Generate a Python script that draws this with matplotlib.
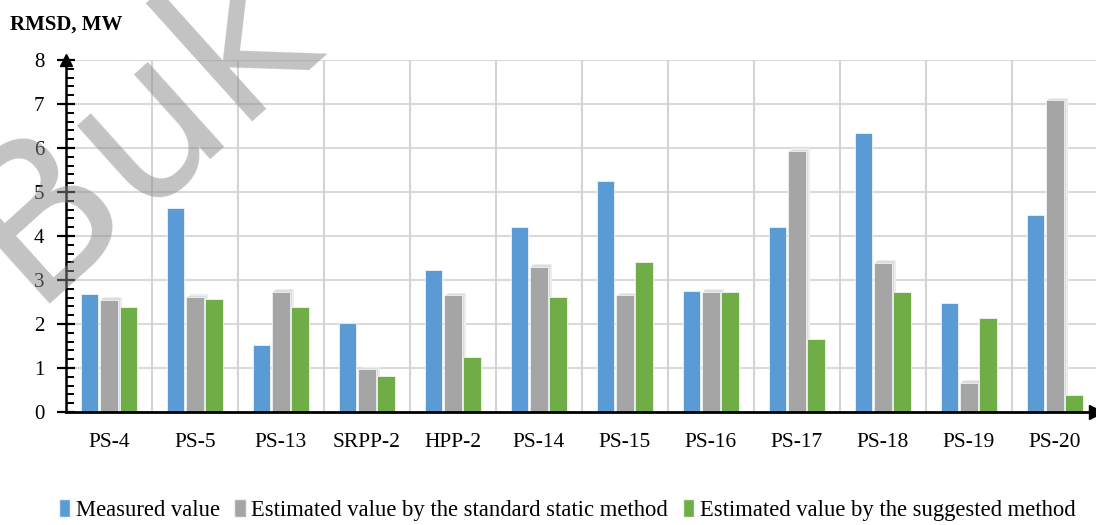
import numpy as np
import matplotlib.pyplot as plt
from matplotlib import patheffects as pe
from matplotlib.ticker import MultipleLocator
from matplotlib.patches import Patch

plt.rcParams['font.family'] = ['Liberation Serif', 'DejaVu Serif']

# RMSD per station, MW
stations = ['PS-4', 'PS-5', 'PS-13', 'SRPP-2', 'HPP-2', 'PS-14',
            'PS-15', 'PS-16', 'PS-17', 'PS-18', 'PS-19', 'PS-20']
measured = [2.68, 4.63, 1.52, 2.02, 3.23, 4.20, 5.25, 2.76, 4.20, 6.34, 2.48, 4.47]
standard = [2.55, 2.61, 2.73, 0.97, 2.65, 3.30, 2.65, 2.73, 5.93, 3.39, 0.67, 7.08]
suggested = [2.38, 2.57, 2.38, 0.82, 1.24, 2.61, 3.42, 2.73, 1.67, 2.72, 2.13, 0.39]

series_names = ['Measured value',
                'Estimated value by the standard static method',
                'Estimated value by the suggested method']
colors = ['#5b9bd5', '#a5a5a5', '#70ad47']

fig = plt.figure(figsize=(10.96, 5.25), dpi=100)
ax = fig.add_axes([66 / 1096, 113 / 525, 1030 / 1096, 352 / 525])

x = np.arange(len(stations))
w = 0.205
offsets = [-0.225, 0.0, 0.225]
for vals, off, c in zip([measured, standard, suggested], offsets, colors):
    bars = ax.bar(x + off, vals, width=w, color=c, edgecolor='#eef3f8',
                  linewidth=0.6, zorder=3)
    if c == '#a5a5a5':
        # soft glow behind the grey bars
        for b in bars:
            b.set_path_effects([
                pe.SimplePatchShadow(offset=(3, 2), shadow_rgbFace='#ececec', alpha=1),
                pe.SimplePatchShadow(offset=(1.5, 1), shadow_rgbFace='#dcdcdc', alpha=1),
                pe.Normal()])

ax.set_xlim(-0.5, 11.48)
ax.set_ylim(0, 8)

# grid: integer rows, category separators
for yv in range(1, 9):
    ax.axhline(yv, color='#dadada', lw=1.5, zorder=1)
for xv in np.arange(0.5, 11.5, 1.0):
    ax.axvline(xv, color='#d4d4d4', lw=1.5, zorder=1)

for s in ['top', 'right']:
    ax.spines[s].set_visible(False)
ax.spines['left'].set_linewidth(1.8)
ax.spines['bottom'].set_linewidth(2.0)
ax.spines['left'].set_zorder(5)
ax.spines['bottom'].set_zorder(5)

ax.yaxis.set_major_locator(MultipleLocator(1))
ax.yaxis.set_minor_locator(MultipleLocator(0.2))
ax.tick_params(axis='y', which='major', direction='inout', length=13, width=1.6,
               labelsize=15, pad=9)
ax.tick_params(axis='y', which='minor', direction='in', length=6, width=1.4)
ax.set_xticks(x)
ax.set_xticklabels(stations, fontsize=15.5)
ax.tick_params(axis='x', length=0, pad=15)

# arrow heads on both axes
ax.plot(1, 0, '>', color='black', markersize=10, transform=ax.transAxes, clip_on=False, zorder=6)
ax.plot(0, 1, '^', color='black', markersize=9, transform=ax.transAxes, clip_on=False, zorder=6)

fig.text(10 / 1096, 1 - 25 / 525, 'RMSD, MW', fontsize=15, fontweight='bold',
         va='center', ha='left')

handles = [Patch(facecolor=c, edgecolor='#eef3f8') for c in colors]
fig.legend(handles, series_names, loc='center', bbox_to_anchor=(567 / 1096, 1 - 510 / 525),
           ncol=3, frameon=False, fontsize=16.3, handlelength=0.5, handleheight=0.85,
           handletextpad=0.25, columnspacing=0.65)

# watermark
fig.text(138 / 1096, 1 - 128 / 525, 'Buk', fontsize=150,
         family=['Liberation Sans Narrow', 'DejaVu Sans'],
         color='#888888', alpha=0.5, rotation=42, ha='center', va='center', zorder=10)

fig.savefig('out.png', dpi=100)
